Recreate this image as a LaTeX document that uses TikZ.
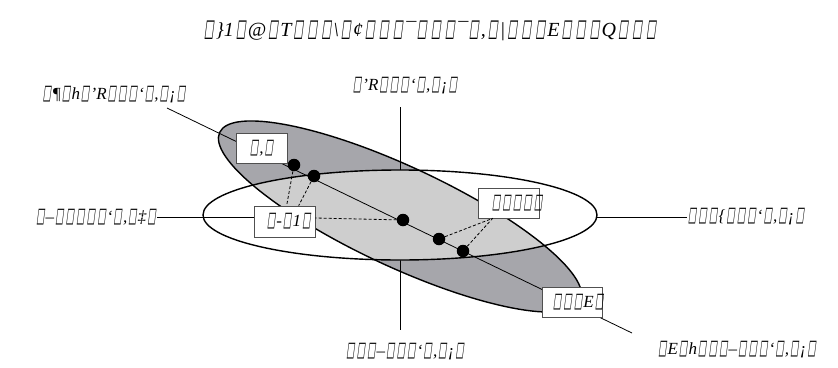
\documentclass[tikz,border=0pt]{standalone}
\usepackage{fontspec}
\setmainfont{Liberation Serif}
\newfontfamily\bxf{DejaVu Sans}[FakeSlant=0.3]
\usetikzlibrary{calc}
\newcommand\q{\makebox[0.62em]{\resizebox{0.48em}{0.78em}{\bxf □}}}
\newcommand\qt{\makebox[0.7em]{\resizebox{0.48em}{0.78em}{\bxf □}}}
\definecolor{darkfill}{RGB}{166,166,171}
\definecolor{lightfill}{RGB}{206,206,206}
\definecolor{boxline}{RGB}{80,80,80}
\begin{document}
\begin{tikzpicture}[x=1pt,y=-1pt,
  txt/.style={font=\fontsize{17}{17}\selectfont\itshape, inner sep=0pt},
  ttl/.style={font=\fontsize{20}{20}\selectfont\itshape, inner sep=0pt},
  boxn/.style={draw=boxline, line width=0.7pt, fill=white, inner sep=0pt},
  dotn/.style={circle, fill=black, inner sep=0pt, minimum size=12.5pt},
  dsh/.style={dashed, dash pattern=on 3pt off 2pt, line width=0.8pt},
  ax/.style={line width=0.8pt},
  ell/.style={line width=1.4pt},
  tilt/.style={rotate around={-25:(c)}}]
\useasboundingbox (0,0) rectangle (838,367);
\coordinate (c) at (400,216.5);
\coordinate (ch) at (400,215);
% tilted ellipse fill
\fill[darkfill, tilt] (c) ellipse [x radius=199pt, y radius=50pt];
% vertical axis
\coordinate (vt) at (400,107);
\coordinate (vb) at (400,330);
\draw[ax] (vt) -- (vb);
% horizontal ellipse fill
\fill[white] (ch) ellipse [x radius=197pt, y radius=45pt];
\begin{scope}
\clip (ch) ellipse [x radius=197pt, y radius=45pt];
\fill[lightfill, tilt] (c) ellipse [x radius=199pt, y radius=50pt];
\end{scope}
% outlines
\draw[ell, tilt] (c) ellipse [x radius=199pt, y radius=50pt];
\draw[ell] (ch) ellipse [x radius=197pt, y radius=45pt];
% labels
\node[ttl] (title) at (430,31) {\qt\}1\qt@\qt T\qt\qt\qt\textbackslash\qt¢\qt\qt\qt¯\qt\qt\qt¯\qt,\qt|\qt\qt\qt E\qt\qt\qt Q\qt\qt\qt};
\node[txt] (tl) at (114,95) {\q¶\q h\q'R\q\q\q‘\q,\q¡\q};
\node[txt] (top) at (405,86) {\q'R\q\q\q‘\q,\q¡\q};
\node[txt] (left) at (96,217) {\q–\q\q\q\q\q‘\q,\q‡\q};
\node[txt] (right) at (746,217) {\q\q\q\{\q\q\q‘\q,\q¡\q};
\node[txt] (bottom) at (405,352) {\q\q\q–\q\q\q‘\q,\q¡\q};
\node[txt] (br) at (737,350) {\q E\q h\q\q\q–\q\q\q‘\q,\q¡\q};
% diagonal line
\coordinate (d1) at (167,108);
\coordinate (d2) at (632,333);
\draw[ax] (d1) -- (d2);
% horizontal axis
\coordinate (hr) at (597,217);
% boxes
\node[boxn, minimum width=51pt, minimum height=30pt] (b1) at (261.5,148) {};
\node[boxn, minimum width=61pt, minimum height=31pt] (b2) at (284.5,221.5) {};
\node[boxn, minimum width=61pt, minimum height=30pt] (b3) at (508.5,203) {};
\node[boxn, minimum width=60pt, minimum height=30pt] (b4) at (572,302) {};
\draw[ax] (left.east) -- (b2.west |- left.east);
\draw[ax] (hr) -- (right.west);
% dots
\node[dotn] (p1) at (294,165) {};
\node[dotn] (p2) at (314,176) {};
\node[dotn] (p3) at (403,220) {};
\node[dotn] (p4) at (439,239) {};
\node[dotn] (p5) at (463,251) {};
% dashed connectors
\draw[dsh] (p1) -- ($(b2.north west)+(33,0)$);
\draw[dsh] (p2) -- ($(b2.north west)+(45,0)$);
\draw[dsh] (p3) -- ($(b2.east)+(0,-3.5)$);
\draw[dsh] (p4) -- ($(b3.south west)+(15,0)$);
\draw[dsh] (p5) -- ($(b3.south west)+(15,0)$);
% box texts
\node[txt, anchor=west] (t1) at ($(b1.west)+(13,0)$) {\q,\q};
\node[txt, anchor=west] (t2) at ($(b2.west)+(12,0)$) {\q-\q1\q};
\node[txt, anchor=west] (t3) at ($(b3.west)+(13,0)$) {\q\q\q\q\q};
\node[txt, anchor=west] (t4) at ($(b4.west)+(10,0)$) {\q\q\q E\q};
\end{tikzpicture}
\end{document}
